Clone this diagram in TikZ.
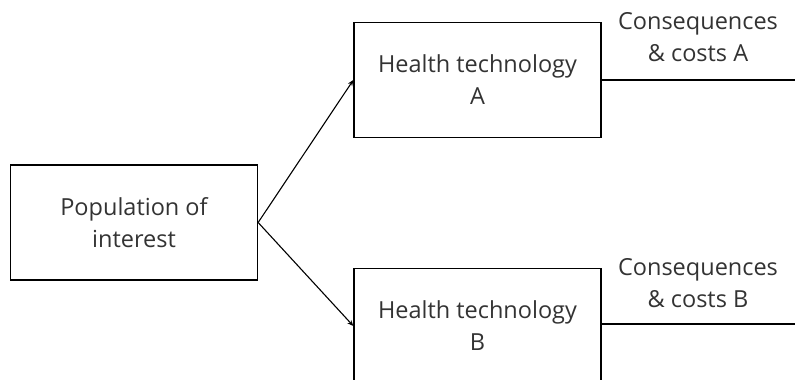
\documentclass[tikz,border=0pt]{standalone}
\usepackage{fontspec}
\setmainfont{Open Sans}
\usetikzlibrary{arrows.meta}
\definecolor{ink}{HTML}{333333}
\begin{document}
\begin{tikzpicture}[x=1pt,y=-1pt,
  box/.style={draw=black,line width=1.3pt,minimum width=247pt,minimum height=115pt,inner sep=0pt,align=center,font=\fontsize{23.5}{32}\selectfont,text=ink},
  lbl/.style={align=center,font=\fontsize{23.5}{32}\selectfont,text=ink,inner sep=0pt},
  conn/.style={draw=black,line width=1.1pt},
  arr/.style={conn,-{Stealth[length=6pt,width=5pt]}}]
\useasboundingbox (0,0) rectangle (795,380);
\clip (0,0) rectangle (795,380);
\node[box] (pop) at (134,222.5) {Population of\\interest};
\node[box] (ha) at (477.5,80) {Health technology\\A};
\node[box] (hb) at (477.5,326) {Health technology\\B};
\coordinate (ea) at (795,80);
\coordinate (eb) at (795,324);
\node[lbl] (ca) at (698,37) {Consequences\\\& costs A};
\node[lbl] (cb) at (698,283) {Consequences\\\& costs B};
\draw[arr] (pop.east) -- (ha.west);
\draw[arr] (pop.east) -- (hb.west);
\draw[conn] (ha.east) -- (ea);
\draw[conn] (hb.east |- eb) -- (eb);
\end{tikzpicture}
\end{document}
